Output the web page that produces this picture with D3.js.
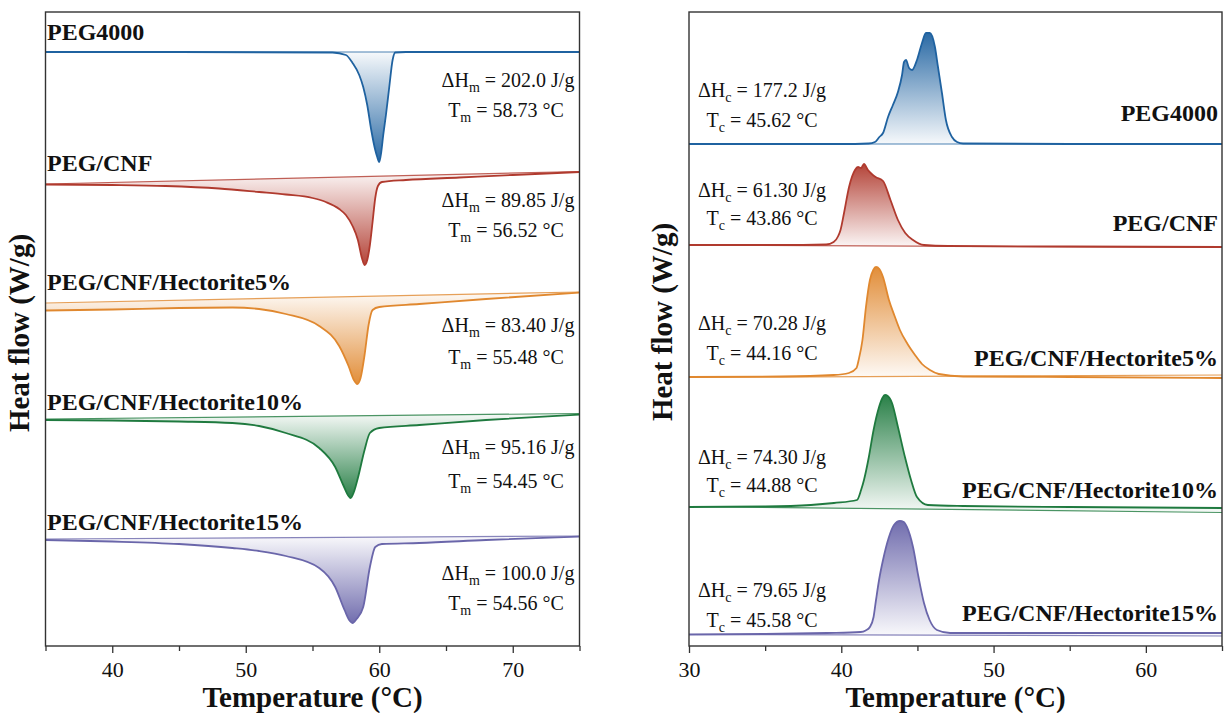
<!DOCTYPE html>
<html>
<head>
<meta charset="utf-8">
<script src="https://cdn.jsdelivr.net/npm/d3@7"></script>
<style>
  body { margin: 0; background: #fff; }
  svg text { font-family: "Liberation Serif", "Times New Roman", serif; fill: #111; }
</style>
</head>
<body>
<div id="my_dataviz"></div>
<script>
// ---- data (T in degC, heat flow stacked with offsets, a.u.)
var sampleNames    = ["PEG4000", "PEG/CNF", "PEG/CNF/Hectorite5%", "PEG/CNF/Hectorite10%", "PEG/CNF/Hectorite15%"];
var meltEnthalpy   = ["202.0", "89.85", "83.40", "95.16", "100.0"];
var meltTemp       = ["58.73", "56.52", "55.48", "54.45", "54.56"];
var crystEnthalpy  = ["177.2", "61.30", "70.28", "74.30", "79.65"];
var crystTemp      = ["45.62", "43.86", "44.16", "44.88", "45.58"];
var meltTicks      = [35, 40, 45, 50, 55, 60, 65, 70, 75];
var crystTicks     = [30, 35, 40, 45, 50, 55, 60, 65];

// heating (melting) curves
var meltPEG4000 = [[35,59.4],[45,59.4],[56.5,59.35],[57.5,59.1],[58.0,58.3],[58.5,57.1],[58.8,55.9],[59.1,54.1],[59.4,51.6],[59.7,49.6],[59.85,48.9],[60.0,48.4],[60.15,49.4],[60.3,51.1],[60.5,53.1],[60.75,55.9],[61.0,58.6],[61.2,59.35],[62,59.4],[75,59.4]];
var meltCNF     = [[35,46.15],[40,46.1],[44,46.0],[48,45.75],[51,45.4],[53,45.15],[55,44.8],[56,44.4],[57,43.7],[57.5,43.1],[58,42.0],[58.4,40.6],[58.7,38.8],[58.9,38.1],[59.1,38.6],[59.3,40.1],[59.5,42.4],[59.7,44.8],[59.9,46.0],[60.2,46.4],[62,46.6],[66,46.85],[70,47.1],[75,47.4]];
var meltHect5   = [[35,33.55],[40,33.65],[45,33.8],[49,33.85],[51,33.7],[53,33.2],[55.5,32.0],[57,30.0],[57.7,28.0],[58.1,26.6],[58.35,26.2],[58.6,26.8],[58.9,29.1],[59.2,32.1],[59.5,33.6],[60,33.9],[63,34.2],[68,34.7],[75,35.35]];
var meltHect10  = [[35,22.6],[40,22.55],[45,22.45],[49,22.3],[51,22.0],[53,21.3],[55.5,19.8],[56.7,17.9],[57.3,16.1],[57.7,15.0],[57.85,14.8],[58.1,15.4],[58.4,16.8],[58.9,19.6],[59.3,21.3],[60,21.8],[63,22.1],[68,22.6],[75,23.15]];
var meltHect15  = [[35,10.6],[40,10.45],[45,10.2],[49,9.8],[51,9.5],[53,9.0],[55.5,7.8],[56.7,5.9],[57.4,3.6],[57.8,2.5],[58.0,2.3],[58.3,2.7],[58.8,3.9],[59.3,7.9],[59.7,9.9],[60.2,10.2],[63,10.3],[68,10.6],[75,10.95]];
var meltBaselines = [[59.4,59.4],[46.2,47.45],[34.3,35.4],[22.7,23.25],[10.7,11.0]];

// cooling (crystallisation) curves
var crystPEG4000 = [[30,50.2],[40,50.2],[41.8,50.25],[42.21,50.4],[42.5,50.9],[42.74,51.3],[43.07,52.9],[43.39,54.1],[43.72,55.4],[43.99,57.1],[44.12,58.4],[44.25,58.6],[44.45,57.8],[44.65,57.6],[44.97,58.6],[45.3,60.3],[45.56,61.3],[45.82,61.3],[46.15,59.9],[46.35,57.9],[46.61,55.3],[46.87,52.6],[47.27,50.9],[47.6,50.4],[48,50.25],[55,50.2],[65,50.2]];
var crystCNF     = [[30,40.1],[36,40.1],[39,40.15],[39.5,40.4],[39.8,41.0],[39.95,41.6],[40.18,43.3],[40.51,45.9],[40.9,47.6],[41.1,47.9],[41.3,47.8],[41.49,48.2],[41.75,47.6],[42.0,47.2],[42.25,46.9],[42.74,46.5],[43.23,44.6],[43.72,42.6],[44.2,41.3],[44.71,40.6],[45.43,40.1],[47,40.0],[55,39.95],[65,39.9]];
var crystHect5   = [[30,26.9],[36,26.95],[39.5,27.1],[40.5,27.3],[41.0,27.8],[41.14,28.6],[41.39,30.6],[41.62,33.9],[41.88,36.6],[42.1,37.6],[42.28,37.9],[42.5,37.7],[42.74,36.9],[43.13,34.6],[43.5,33.0],[43.85,31.6],[44.35,30.2],[44.84,29.1],[45.3,28.2],[45.82,27.6],[46.4,27.2],[48,26.95],[55,26.9],[65,26.8]];
var crystHect10  = [[30,13.9],[35,13.95],[38,14.1],[39.52,14.3],[41.03,14.6],[41.3,15.6],[41.49,16.6],[41.81,18.9],[42.12,21.6],[42.48,23.9],[42.7,24.8],[42.87,25.1],[43.05,25.0],[43.33,24.3],[43.72,21.9],[44.18,18.9],[44.58,16.6],[44.97,14.9],[45.69,14.1],[48,14.0],[55,13.9],[65,13.8]];
var crystHect15  = [[30,1.15],[35,1.2],[39.06,1.3],[41.27,1.4],[41.6,1.55],[41.88,1.9],[42.12,2.9],[42.28,4.6],[42.48,6.6],[42.74,8.6],[43.11,10.8],[43.46,12.1],[43.85,12.5],[44.1,12.4],[44.31,11.9],[44.71,9.9],[45.07,6.9],[45.43,4.3],[45.8,2.6],[46.28,1.6],[47.14,1.3],[55,1.3],[65,1.3]];
var crystBaselines = [[50.2,50.2],[40.1,39.85],[26.85,27.1],[13.95,13.35],[1.15,1.0]];

var colors = ["#1f62a0", "#b03a2e", "#e0882f", "#1f7a3f", "#6a66aa"];

//set the dimensions
var width = 1225, height = 713;
var top_y = 12, bottom_y = 646;

var svg = d3.select("#my_dataviz")
  .append("svg")
    .attr("width", width)
    .attr("height", height);

var defs = svg.append("defs");

var y = d3.scaleLinear()
  .domain([0, 63.4])
  .range([bottom_y, top_y]);

function drawPanel(id, x, ticks, curves, baselines, peaksUp) {
  var x0 = x.range()[0], x1 = x.range()[1];
  var d0 = x.domain()[0], d1 = x.domain()[1];
  var g = svg.append("g");

  defs.append("clipPath").attr("id", "clip_" + id)
    .append("rect")
      .attr("x", x0).attr("y", top_y)
      .attr("width", x1 - x0).attr("height", bottom_y - top_y);

  var line = d3.line()
    .x(function(d) { return x(d[0]); })
    .y(function(d) { return y(d[1]); })
    .curve(d3.curveMonotoneX);

  var plot = g.append("g").attr("clip-path", "url(#clip_" + id + ")");

  curves.forEach(function(c, i) {
    var col = colors[i];
    var gid = "grad_" + id + i;
    var grad = defs.append("linearGradient")
      .attr("id", gid)
      .attr("x1", 0).attr("y1", 0).attr("x2", 0).attr("y2", 1);
    grad.append("stop").attr("offset", 0)
      .attr("stop-color", col).attr("stop-opacity", peaksUp ? 0.95 : 0.04);
    grad.append("stop").attr("offset", 1)
      .attr("stop-color", col).attr("stop-opacity", peaksUp ? 0.04 : 0.95);

    var b = baselines[i];
    // area between the curve and its straight integration baseline
    plot.append("path")
      .attr("d", line(c) + "L" + x(d1) + "," + y(b[1]) + "L" + x(d0) + "," + y(b[0]) + "Z")
      .attr("fill", "url(#" + gid + ")")
      .attr("stroke", "none");

    plot.append("line")
      .attr("x1", x(d0)).attr("y1", y(b[0]))
      .attr("x2", x(d1)).attr("y2", y(b[1]))
      .attr("stroke", col)
      .attr("stroke-width", 1.2)
      .attr("stroke-opacity", 0.8);

    plot.append("path")
      .attr("d", line(c))
      .attr("fill", "none")
      .attr("stroke", col)
      .attr("stroke-width", 1.8);
  });

  // frame
  g.append("rect")
    .attr("x", x0).attr("y", top_y)
    .attr("width", x1 - x0).attr("height", bottom_y - top_y)
    .attr("fill", "none")
    .attr("stroke", "#333")
    .attr("stroke-width", 1.4);

  var xAxis = g.append("g")
    .attr("transform", "translate(0," + bottom_y + ")")
    .call(d3.axisBottom(x)
      .tickValues(ticks)
      .tickSize(7)
      .tickPadding(8)
      .tickFormat(function(d) { return d % 10 === 0 ? d : ""; }));

  xAxis.select(".domain").remove();
  xAxis.attr("font-size", 22).attr("font-family", "Liberation Serif, Times New Roman, serif");
  xAxis.selectAll(".tick line")
    .attr("stroke", "#333")
    .attr("stroke-width", 1.3)
    .attr("y2", function(d) { return d % 10 === 0 ? 7 : 5; });
  xAxis.selectAll(".tick text").attr("fill", "#111");

  g.append("text")
    .attr("x", (x0 + x1) / 2)
    .attr("y", 707)
    .attr("text-anchor", "middle")
    .style("font-size", "29px")
    .style("font-weight", "bold")
    .text("Temperature (\u00B0C)");

  g.append("text")
    .attr("transform", "translate(" + (x0 - 17) + "," + (peaksUp ? 322 : 333) + ")rotate(-90)")
    .attr("text-anchor", "middle")
    .style("font-size", "29px")
    .style("font-weight", "bold")
    .text("Heat flow (W/g)");

  return g;
}

function note(g, cx, yy, sym, sub, rest) {
  var t = g.append("text")
    .attr("x", cx).attr("y", yy)
    .attr("text-anchor", "middle")
    .style("font-size", "20px");
  t.append("tspan").text(sym);
  t.append("tspan").attr("dy", 5).style("font-size", "14px").text(sub);
  t.append("tspan").attr("dy", -5).text(rest);
}

// ---- left: melting
var xMelt = d3.scaleLinear().domain([35, 75]).range([45.5, 579.5]);
var gMelt = drawPanel("melt", xMelt, meltTicks,
  [meltPEG4000, meltCNF, meltHect5, meltHect10, meltHect15], meltBaselines, false);

var meltLabelY = [40, 171, 290, 410, 530];
var meltDhY    = [87, 207, 332, 454, 580];
var meltTY     = [117, 237, 364, 488, 610];

sampleNames.forEach(function(name, i) {
  gMelt.append("text")
    .attr("x", 47).attr("y", meltLabelY[i])
    .style("font-size", "24px")
    .style("font-weight", "bold")
    .text(name);
  note(gMelt, 508, meltDhY[i], "\u0394H", "m", " = " + meltEnthalpy[i] + " J/g");
  note(gMelt, 506, meltTY[i], "T", "m", " = " + meltTemp[i] + " \u00B0C");
});

// ---- right: crystallisation
var xCryst = d3.scaleLinear().domain([30, 65]).range([689, 1222]);
var gCryst = drawPanel("cryst", xCryst, crystTicks,
  [crystPEG4000, crystCNF, crystHect5, crystHect10, crystHect15], crystBaselines, true);

var crystLabelY = [121, 231, 366, 498, 621];
var crystDhY    = [97, 197, 330, 464, 597];
var crystTY     = [127, 225, 360, 492, 627];

sampleNames.forEach(function(name, i) {
  gCryst.append("text")
    .attr("x", 1218).attr("y", crystLabelY[i])
    .attr("text-anchor", "end")
    .style("font-size", "24px")
    .style("font-weight", "bold")
    .text(name);
  note(gCryst, 762, crystDhY[i], "\u0394H", "c", " = " + crystEnthalpy[i] + " J/g");
  note(gCryst, 762, crystTY[i], "T", "c", " = " + crystTemp[i] + " \u00B0C");
});
</script>
</body>
</html>
